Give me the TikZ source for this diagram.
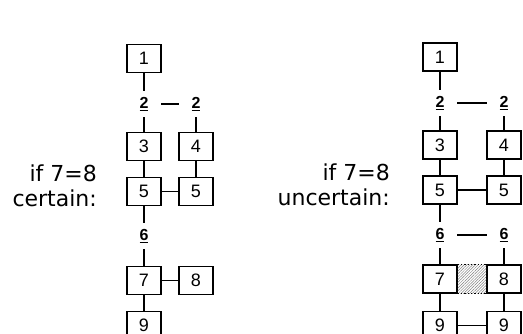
\documentclass[tikz,border=0pt]{standalone}
\usepackage{fontspec}
\setmainfont{Liberation Sans}
\newfontfamily\labfont{DejaVu Sans}
\usetikzlibrary{patterns.meta}
\begin{document}
\begin{tikzpicture}[x=1pt,y=-1pt,
  box/.style={draw, line width=1.6pt, minimum width=34pt, minimum height=28pt, inner sep=0pt, font=\fontsize{18}{18}\selectfont},
  lab/.style={inner sep=0pt, minimum width=34pt, minimum height=26pt, font=\fontsize{16}{16}\selectfont\bfseries},
  side/.style={inner sep=0pt, anchor=base east, font=\labfont\fontsize{22}{26}\selectfont},
  vline/.style={line width=1.7pt},
  hline/.style={line width=1.1pt},
  labdash/.style={line width=1.5pt},
]
\clip (0,0) rectangle (523,333);
% ---------- left diagram ----------
\node[side] (lt1) at (97,181.7) {if 7=8};
\node[side] (lt2) at (97,206.7) {certain:};
\node[box] (a1) at (144,58.5) {1};
\node[lab] (a2l) at (144,104) {\underline{2}};
\node[lab] (a2r) at (196,104) {\underline{2}};
\node[box] (a3) at (144,146.5) {3};
\node[box] (a4) at (196,146.5) {4};
\node[box] (a5l) at (144,191.5) {5};
\node[box] (a5r) at (196,191.5) {5};
\node[lab] (a6) at (144,236) {\underline{6}};
\node[box] (a7) at (144,280.5) {7};
\node[box] (a8) at (196,280.5) {8};
\node[box] (a9) at (144,325.5) {9};
\draw[vline] (a1) -- (a2l);
\draw[labdash] (a2l) -- (a2r);
\draw[vline] (a2l) -- (a3);
\draw[vline] (a2r) -- (a4);
\draw[vline] (a3) -- (a5l);
\draw[vline] (a4) -- (a5r);
\draw[hline] (a5l) -- (a5r);
\draw[vline] (a5l) -- (a6);
\draw[vline] (a6) -- (a7);
\draw[hline] (a7) -- (a8);
\draw[vline] (a7) -- (a9);
% ---------- right diagram ----------
\node[side] (rt1) at (390,180.7) {if 7=8};
\node[side] (rt2) at (390,205.7) {uncertain:};
\node[box] (b1) at (440,57) {1};
\node[lab] (b2l) at (440,103) {\underline{2}};
\node[lab] (b2r) at (504,103) {\underline{2}};
\node[box] (b3) at (440,145) {3};
\node[box] (b4) at (504,145) {4};
\node[box] (b5l) at (440,190) {5};
\node[box] (b5r) at (504,190) {5};
\node[lab] (b6l) at (440,235) {\underline{6}};
\node[lab] (b6r) at (504,235) {\underline{6}};
\node[box] (b7) at (440,279) {7};
\node[box] (b8) at (504,279) {8};
\node[box] (b9l) at (440,325.5) {9};
\node[box] (b9r) at (504,325.5) {9};
\fill[pattern={Lines[angle=45,distance=2pt,line width=0.5pt]}, pattern color=gray] (b7.north east) rectangle (b8.south west);
\draw[line width=1.3pt, dotted] (b7.north east) -- (b8.north west);
\draw[line width=1.3pt, dotted] (b7.south east) -- (b8.south west);
\draw[vline] (b1) -- (b2l);
\draw[labdash] (b2l) -- (b2r);
\draw[vline] (b2l) -- (b3);
\draw[vline] (b2r) -- (b4);
\draw[vline] (b3) -- (b5l);
\draw[vline] (b4) -- (b5r);
\draw[hline] (b5l) -- (b5r);
\draw[vline] (b5l) -- (b6l);
\draw[labdash] (b6l) -- (b6r);
\draw[vline] (b6l) -- (b7);
\draw[vline] (b6r) -- (b8);
\draw[vline] (b7) -- (b9l);
\draw[vline] (b8) -- (b9r);
\draw[hline] (b9l) -- (b9r);
\end{tikzpicture}
\end{document}
